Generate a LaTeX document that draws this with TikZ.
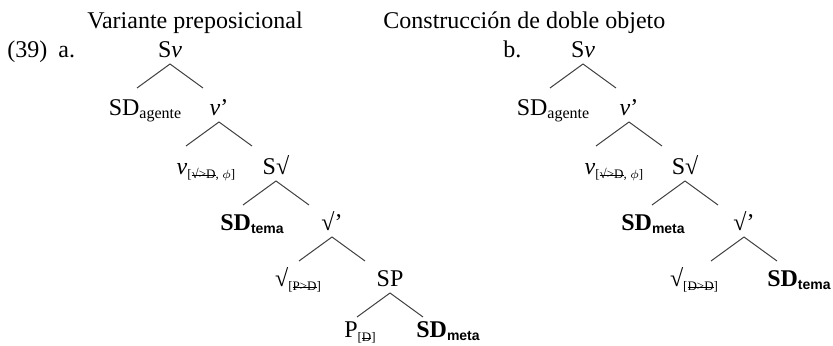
\documentclass[tikz,border=0pt,12pt]{standalone}
\usepackage{fontspec}
\setmainfont{Liberation Serif}
\setsansfont{Liberation Sans}
\usetikzlibrary{calc}
\tikzset{
  et/.style={anchor=base, inner sep=0pt, font=\fontsize{12}{14}\selectfont},
  tit/.style={anchor=base west, inner sep=0pt, font=\fontsize{12}{14}\selectfont},
  rama/.style={line width=0.5pt, draw=black!75},
}
\newsavebox{\tachbox}
\newcommand{\subind}[1]{\raisebox{-1.5pt}{\fontsize{8}{9}\selectfont #1}}
\newcommand{\bsubind}[1]{\raisebox{-1.5pt}{\fontsize{7}{9}\selectfont\sffamily\bfseries #1}}
\newcommand{\rasgo}[1]{\raisebox{-1.8pt}{\fontsize{6.5}{8}\selectfont[#1]}}
\newcommand{\tach}[1]{\sbox{\tachbox}{#1}\rlap{\usebox{\tachbox}}\rule[0.45ex]{\wd\tachbox}{0.35pt}}

\begin{document}
\begin{tikzpicture}[x=0.5pt,y=-0.5pt]
\useasboundingbox (0,0) rectangle (833,346);
% titulos y numeracion
\node[tit] (tita) at (87,29) {Variante preposicional};
\node[tit] (titb) at (383,29) {Construcción de doble objeto};
\node[tit] (num) at (7,58) {(39)};
\node[tit] (ea) at (58,58) {a.};
\node[tit] (eb) at (503,58) {b.};
% arbol a
\node[et] (sva) at (170,58) {S\textit{v}};
\node[et] (sdaga) at (145,116) {SD\subind{agente}};
\node[et] (vpa) at (219,116) {\textit{v}’};
\node[et] (va) at (206,175) {\textit{v}\rasgo{\tach{√>D}, $\phi$}};
\node[et] (sra) at (276,175) {S√};
\node[et] (sdta) at (252,231) {\textbf{SD}\bsubind{tema}};
\node[et] (rpa) at (332,231) {√’};
\node[et] (ra) at (298,287) {√\rasgo{\tach{P>D}}};
\node[et] (spa) at (390,287) {SP};
\node[et] (pa) at (360,338) {P\rasgo{\tach{D}}};
\node[et] (sdma) at (448,338) {\textbf{SD}\bsubind{meta}};
% arbol b
\node[et] (svb) at (583,58) {S\textit{v}};
\node[et] (sdagb) at (553,116) {SD\subind{agente}};
\node[et] (vpb) at (629,116) {\textit{v}’};
\node[et] (vb) at (614,175) {\textit{v}\rasgo{\tach{√>D}, $\phi$}};
\node[et] (srb) at (685,175) {S√};
\node[et] (sdmb) at (653,231) {\textbf{SD}\bsubind{meta}};
\node[et] (rpb) at (744,231) {√’};
\node[et] (rb) at (694,287) {√\rasgo{\tach{D>D}}};
\node[et, anchor=base east] (sdtb) at (831,287) {\textbf{SD}\bsubind{tema}};
% ramas
\foreach \p/\c/\s in {sva/sdaga/-1, sva/vpa/1, vpa/va/-1, vpa/sra/1,
    sra/sdta/-1, sra/rpa/1, rpa/ra/-1, rpa/spa/1, spa/pa/-1, spa/sdma/1,
    svb/sdagb/-1, svb/vpb/1, vpb/vb/-1, vpb/srb/1,
    srb/sdmb/-1, srb/rpb/1, rpb/rb/-1, rpb/sdtb/1}
  \draw[rama] ([yshift=-3pt]\p.base) -- ++(\s*33,24) coordinate (\c-t);
\end{tikzpicture}
\end{document}
